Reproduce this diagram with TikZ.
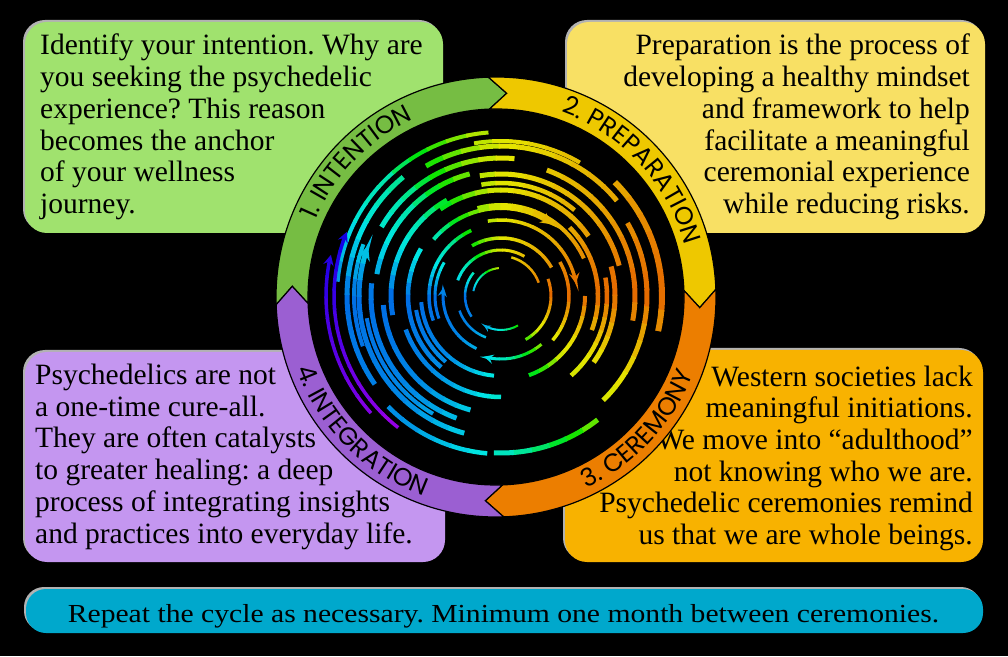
\documentclass[tikz,border=0pt]{standalone}
\usepackage{fontspec}
\setmainfont{Liberation Serif}
\newfontfamily\ringfont{Poppins}
\newfontfamily\barfont[FakeStretch=1.14]{Liberation Serif}
\usetikzlibrary{arrows,decorations.text,calc}
\tikzset{
  box/.style={rectangle, rounded corners=22pt, inner sep=0pt},
  boxshade/.style={box, fill=gray!60},
  boxtext/.style={inner sep=0pt, font=\fontsize{29.5}{31.7}\selectfont},
  band/.style={draw=black, line width=1.2pt},
  ringlabel/.style={decorate, decoration={text along path, text align=center, text color=black,
      text={|\ringfont\fontsize{25}{27}\selectfont|#1}}},
}
\definecolor{greenbox}{RGB}{160,226,110}
\definecolor{yellowbox}{RGB}{248,224,100}
\definecolor{orangebox}{RGB}{248,178,0}
\definecolor{purplebox}{RGB}{196,150,240}
\definecolor{ringgreen}{RGB}{118,189,67}
\definecolor{ringyellow}{RGB}{238,200,0}
\definecolor{ringorange}{RGB}{236,126,0}
\definecolor{ringpurple}{RGB}{155,95,210}
\definecolor{barblue}{RGB}{0,168,204}
\def\huetable{{28,45,62,165,212,205,172,65,28}}
\frenchspacing

\begin{document}
\begin{tikzpicture}[x=1pt, y=1pt]
      \useasboundingbox (0,0) rectangle (1008,656);
      \fill[black] (0,0) rectangle (1008,656);

      % the four boxes and the bar
      \node[boxshade, minimum width=418pt, minimum height=211pt] at (232,530.5) {};
      \node[box, fill=greenbox, minimum width=418pt, minimum height=211pt] (intentionbox) at (234,528.5) {};
      \node[boxshade, minimum width=418pt, minimum height=211pt] at (774,530.5) {};
      \node[box, fill=yellowbox, minimum width=418pt, minimum height=211pt] (preparationbox) at (776,528.5) {};
      \node[boxshade, minimum width=420pt, minimum height=210pt] at (233,201) {};
      \node[box, fill=purplebox, minimum width=420pt, minimum height=210pt] (integrationbox) at (235,199) {};
      \node[boxshade, minimum width=418pt, minimum height=212pt] at (772,202) {};
      \node[box, fill=orangebox, minimum width=418pt, minimum height=212pt] (ceremonybox) at (774,200) {};
      \node[boxshade, rounded corners=20pt, minimum width=957pt, minimum height=44pt] at (502.5,47) {};
      \node[box, rounded corners=20pt, fill=barblue, minimum width=957pt, minimum height=44pt] (repeatbar) at (504.5,45) {};

      % texts, placed at the baseline of their last line
      \node[boxtext, anchor=base west, align=left] (intentiontext) at (40,442.5) {Identify your intention. Why are\\you seeking the psychedelic\\experience? This reason\\becomes the anchor\\of your wellness\\journey.};
      \node[boxtext, anchor=base east, align=right] (preparationtext) at (970,442.5) {Preparation is the process of\\developing a healthy mindset\\and framework to help\\facilitate a meaningful\\ceremonial experience\\while reducing risks.};
      \node[boxtext, anchor=base west, align=left] (integrationtext) at (35,113) {Psychedelics are not\\a one-time cure-all.\\They are often catalysts\\to greater healing: a deep\\process of integrating insights\\and practices into everyday life.};
      \node[boxtext, anchor=base east, align=right] (ceremonytext) at (973,111.5) {Western societies lack\\meaningful initiations.\\We move into “adulthood”\\not knowing who we are.\\Psychedelic ceremonies remind\\us that we are whole beings.};
      \node[inner sep=0pt, anchor=base, font=\barfont\fontsize{26}{28}\selectfont] (repeattext) at (503.5,34) {Repeat the cycle as necessary. Minimum one month between ceremonies.};

      % ring
      \coordinate (ctr) at (496,359);
      \coordinate (swirl) at (501,360);
      \fill[black] (ctr) circle[radius=188];
      \foreach \s/\c in {182/ringgreen, 92/ringyellow, 2/ringorange, -88/ringpurple}{
        \pgfmathsetmacro{\e}{\s-90}
        \pgfmathsetmacro{\et}{\s-95}
        \pgfmathsetmacro{\st}{\s-5}
        \draw[band, fill=\c] ([shift={(ctr)}]\s:220) arc[start angle=\s, end angle=\e, radius=220]
          -- ([shift={(ctr)}]\et:204) -- ([shift={(ctr)}]\e:188)
          arc[start angle=\e, end angle=\s, radius=188] -- ([shift={(ctr)}]\st:204) -- cycle;
      }
      \path[ringlabel={1. INTENTION}] ([shift={(ctr)}]182:196) arc[start angle=182, end angle=90, radius=196];
      \path[ringlabel={2. PREPARATION}] ([shift={(ctr)}]90:196) arc[start angle=90, end angle=-4, radius=196];
      \path[ringlabel={3. CEREMONY}] ([shift={(ctr)}]-90:212) arc[start angle=-90, end angle=4, radius=212];
      \path[ringlabel={4. INTEGRATION}] ([shift={(ctr)}]178:212) arc[start angle=178, end angle=272, radius=212];

      % swirl of arcs: radius / from / to / width / mode (1 arrow, 2 purple arrow)
      \foreach \r/\a/\b/\w/\m in {28/170/95/2/0, 36/215/140/2.5/0, 40/75/20/2.5/0, 34/300/240/2/1,
          44/250/200/2.5/0, 46/160/60/3/0, 50/20/-60/3/0, 58/245/172/3/1, 58/120/30/3.5/0, 63/310/255/3/1,
          66/200/150/3/0, 68/30/-40/3.5/0, 72/200/115/3.5/0, 76/100/10/3.5/1, 80/265/185/4/0, 84/0/-70/4/0,
          86/230/190/4/0, 88/140/55/4/1, 91/105/25/4/0, 93/230/150/4.5/0, 97/45/-20/4.5/0, 101/270/200/4.5/0,
          106/125/35/5/0, 106/10/-48/4.5/0, 110/190/120/5/0, 113/100/50/4.5/0, 114/15/-35/5/0, 118/255/185/5/0,
          122/100/15/5/0, 126/170/105/5/0, 130/250/175/5/0, 134/70/-10/5/0, 136/240/190/4/0, 138/150/85/5/0,
          142/255/160/5/1, 146/30/-45/5/0, 147/200/160/4/0, 150/120/40/5/0, 154/215/130/5/0, 155/100/60/4/0,
          158/265/225/4.5/0, 161/45/-12/6/0, 157/308/268/5/0, 164/175/95/4/0, 167/232/158/3.5/2, 175/222/167/3.5/2}{
        \pgfmathtruncatemacro{\n}{max(1,round((\a-\b)/7))}
        \pgfmathsetmacro{\dt}{(\a-\b)/\n}
        \foreach \k in {1,...,\n}{
          \pgfmathsetmacro{\pa}{\a-(\k-1)*\dt}
          \pgfmathsetmacro{\pb}{\a-\k*\dt-0.6}
          \pgfmathsetmacro{\aa}{mod(\pa-\dt/2+720,360)}
          \pgfmathtruncatemacro{\i}{floor(\aa/45)}
          \pgfmathsetmacro{\fr}{\aa/45-\i}
          \pgfmathsetmacro{\ha}{\huetable[\i]}
          \pgfmathsetmacro{\hb}{\huetable[\i+1]}
          \pgfmathtruncatemacro{\hue}{\m==2 ? 245+(\aa-160)*0.5 : \ha+(\hb-\ha)*\fr^1.3}
          \definecolor{swirlc}{Hsb}{\hue,1,0.9}
          \def\tipstyle{}
          \ifnum\k=\n\ifnum\m>0\def\tipstyle{-stealth}\fi\fi
          \draw[swirlc, line width=\w pt, \tipstyle] ([shift={(swirl)}]\pa:\r) arc[start angle=\pa, end angle=\pb, radius=\r];
        }
      }
    \end{tikzpicture}
\end{document}
